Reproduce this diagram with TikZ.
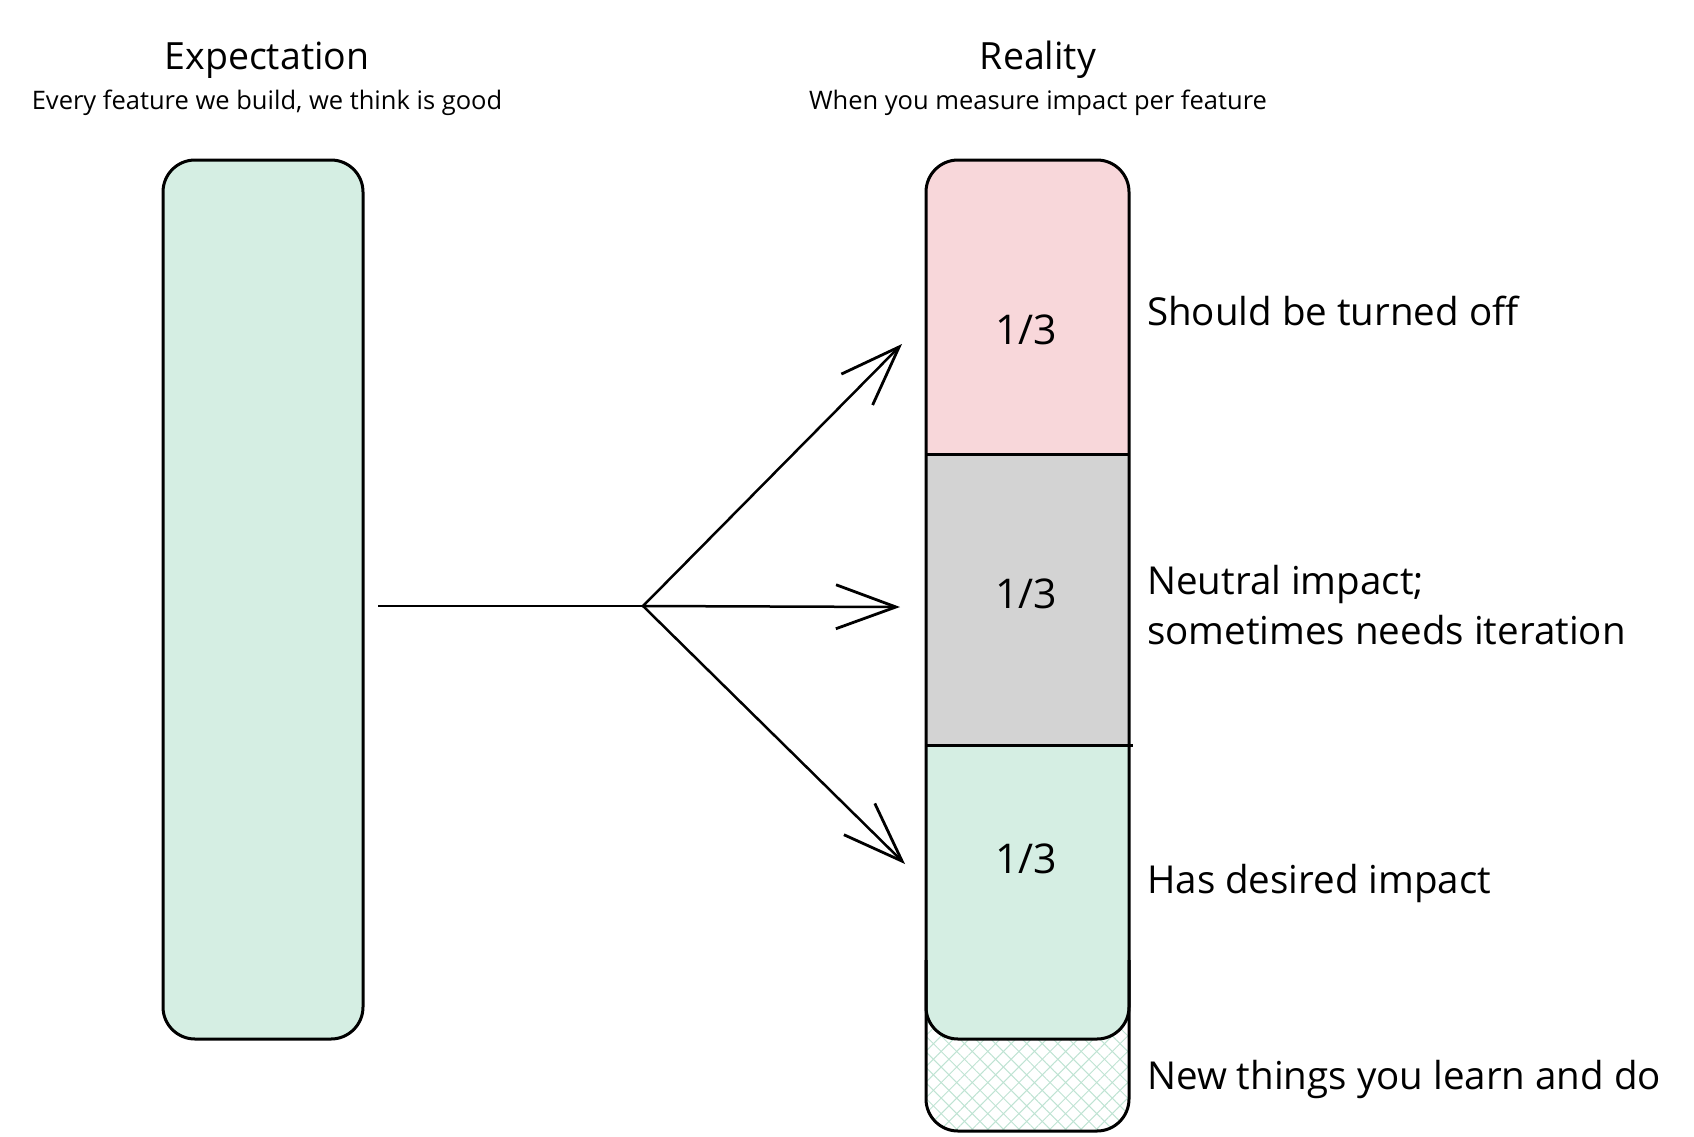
\documentclass[tikz,border=0pt]{standalone}
\usepackage{fontspec}
\setmainfont{Open Sans}
\usetikzlibrary{positioning, arrows.meta, patterns.meta}

\definecolor{barred}{HTML}{F8D7DA}
\definecolor{bargray}{HTML}{D3D3D3}
\definecolor{bargreen}{HTML}{D5EEE3}
\definecolor{hatchgreen}{HTML}{BFE3D3}

\begin{document}
\begin{tikzpicture}[x=1pt, y=-1pt,
    outline/.style={draw=black, line width=3pt},
    section/.style={rectangle, inner sep=0pt, minimum width=203pt},
    title/.style={inner sep=0pt, font=\fontsize{37.5}{44}\selectfont},
    subtitle/.style={inner sep=0pt, font=\fontsize{25.5}{30}\selectfont},
    sidelabel/.style={inner sep=0pt, anchor=west, align=left, font=\fontsize{38.5}{50}\selectfont},
    frac/.style={inner sep=0pt, font=\fontsize{41}{44}\selectfont},
    flow/.style={line width=2.5pt, line cap=round, -{Straight Barb[length=60pt, width=44pt, line width=2.8pt]}}]
      \useasboundingbox (0,0) rectangle (1694,1137);

      % headings
      \node[title] (expect) at (267,60) {Expectation};
      \node[subtitle, below=11pt of expect] (expectsub) {Every feature we build, we think is good};
      \node[title] (reality) at (1038,60) {Reality};
      \node[subtitle, below=11pt of reality] (realitysub) {When you measure impact per feature};

      % expectation bar
      \node[outline, fill=bargreen, rounded corners=32pt, inner sep=0pt,
            minimum width=200pt, minimum height=879pt] (expbar) at (263,599.5) {};

      % reality bar
      \begin{scope}
        \clip[rounded corners=32pt] (926,160) rectangle (1129,1131);
        \fill[pattern={Lines[angle=45, distance=11pt, line width=1pt]}, pattern color=hatchgreen]
          (926,960) rectangle (1129,1131);
        \fill[pattern={Lines[angle=-45, distance=11pt, line width=1pt]}, pattern color=hatchgreen]
          (926,960) rectangle (1129,1131);
        \node[section, fill=bargreen, rounded corners=32pt, minimum height=340pt] (good) at (1027.5,869) {};
        \node[section, fill=bargray, minimum height=291pt] (neutral) at (1027.5,599.5) {};
        \node[section, fill=barred, minimum height=294pt] (off) at (1027.5,307) {};
      \end{scope}
      \draw[outline, rounded corners=32pt] (926,960) -- (926,1039) -- (1129,1039) -- (1129,960);
      \draw[outline] (off.south west) -- (off.south east);
      \draw[outline] (neutral.south west) -- ([xshift=4pt]neutral.south east);
      \draw[outline, rounded corners=32pt] (926,160) rectangle (1129,1131);

      \node[frac] (fracoff) at (1026,330) {1/3};
      \node[frac] (fracneutral) at (1026,594) {1/3};
      \node[frac] (fracgood) at (1026,859) {1/3};

      % labels
      \node[sidelabel] (lbloff) at (1147,311) {Should be turned off};
      \node[sidelabel] (lblneutral) at (1147,605) {Neutral impact;\\sometimes needs iteration};
      \node[sidelabel] (lblgood) at (1147,883) {Has desired impact};
      \node[sidelabel] (lblnew) at (1147,1079) {New things you learn and do};

      % arrows
      \coordinate (tail) at (378,606);
      \coordinate (fork) at (643,606);
      \coordinate (tipoff) at (902,344);
      \coordinate (tipneutral) at (900,607);
      \coordinate (tipgood) at (905,864);
      \draw[line width=2.5pt] (tail) -- (fork);
      \draw[flow] (fork) -- (tipoff);
      \draw[flow] (fork) -- (tipneutral);
      \draw[flow] (fork) -- (tipgood);
    \end{tikzpicture}
\end{document}
